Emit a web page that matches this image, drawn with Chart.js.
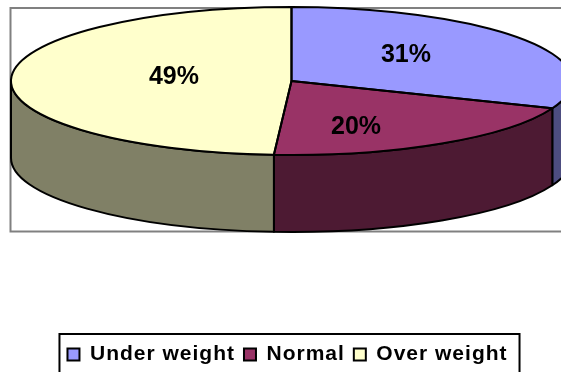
<!DOCTYPE html>
<html>
<head>
<meta charset="utf-8">
<style>
  html, body { margin: 0; padding: 0; background: #fff; overflow: hidden; }
  canvas { display: block; }
</style>
<script src="https://cdn.jsdelivr.net/npm/chart.js@4"></script>
</head>
<body>
<canvas id="pie" width="561" height="372"></canvas>
<script>
const categories = ['Under weight', 'Normal', 'Over weight'];
const shares = [31, 20, 49];
const topColors = ['#9999FF', '#993366', '#FFFFCC'];
const sideColors = ['#4D4D80', '#4D1A33', '#808066'];

// Ellipse the flat pie is projected onto, and the height of the rim below it.
const disc = { cx: 291.5, cy: 81, rx: 280.5, ry: 74, depth: 77 };
// Percent label anchors, as fractions of the ellipse radii from its centre.
const labelOffsets = [[0.408, -0.351], [0.230, 0.622], [-0.419, -0.054]];
const plotFrame = { left: 10.5, top: 8, bottom: 231.5 };
const legendInset = { left: 8, right: 12, top: 10, bottom: 10 };
const legendTracking = '1px';

const tiltedPie = {
  id: 'tiltedPie',
  beforeLayout(chart) { chart.ctx.letterSpacing = legendTracking; },
  beforeDraw(chart) { chart.ctx.letterSpacing = legendTracking; },

  beforeDatasetsDraw(chart) {
    const { ctx, width } = chart;
    ctx.save();
    ctx.strokeStyle = '#808080';
    ctx.lineWidth = 2;
    ctx.strokeRect(plotFrame.left, plotFrame.top, width + 10, plotFrame.bottom - plotFrame.top);

    // Rim: only the part of each slice facing the viewer (angles 0..PI).
    ctx.lineJoin = 'round';
    chart.getDatasetMeta(0).data.forEach((arc, i) => {
      const a0 = Math.max(arc.startAngle, 0);
      const a1 = Math.min(arc.endAngle, Math.PI);
      if (a1 <= a0) return;
      ctx.beginPath();
      ctx.ellipse(disc.cx, disc.cy, disc.rx, disc.ry, 0, a0, a1);
      ctx.ellipse(disc.cx, disc.cy + disc.depth, disc.rx, disc.ry, 0, a1, a0, true);
      ctx.closePath();
      ctx.fillStyle = sideColors[i];
      ctx.fill();
      ctx.strokeStyle = '#000';
      ctx.lineWidth = 2;
      ctx.stroke();
    });
    ctx.restore();

    // Slices are laid out by the pie controller, then squashed onto the ellipse.
    const first = chart.getDatasetMeta(0).data[0];
    ctx.save();
    ctx.translate(disc.cx, disc.cy);
    ctx.scale(disc.rx / first.outerRadius, disc.ry / first.outerRadius);
    ctx.translate(-first.x, -first.y);
  },

  afterDatasetsDraw(chart) {
    const { ctx } = chart;
    ctx.restore();
    const arcs = chart.getDatasetMeta(0).data;

    // Outlines are stroked untransformed so the line keeps an even width.
    ctx.save();
    ctx.strokeStyle = '#000';
    ctx.lineWidth = 2;
    ctx.lineJoin = 'round';
    arcs.forEach(arc => {
      ctx.beginPath();
      ctx.moveTo(disc.cx, disc.cy);
      ctx.ellipse(disc.cx, disc.cy, disc.rx, disc.ry, 0, arc.startAngle, arc.endAngle);
      ctx.closePath();
      ctx.stroke();
    });

    ctx.letterSpacing = '0px';
    ctx.fillStyle = '#000';
    ctx.font = 'bold 25px "Liberation Sans", Arial, sans-serif';
    ctx.textAlign = 'center';
    ctx.textBaseline = 'middle';
    shares.forEach((value, i) => {
      const [fx, fy] = labelOffsets[i];
      ctx.fillText(value + '%', disc.cx + fx * disc.rx, disc.cy + fy * disc.ry);
    });
    ctx.restore();
  },

  afterDraw(chart) {
    const { ctx, legend } = chart;
    const boxes = legend.legendHitBoxes;
    const first = boxes[0];
    const last = boxes[boxes.length - 1];
    const left = first.left - legendInset.left;
    const right = last.left + last.width + legendInset.right;
    const top = first.top - legendInset.top;
    const bottom = first.top + first.height + legendInset.bottom;
    ctx.save();
    ctx.strokeStyle = '#000';
    ctx.lineWidth = 2;
    ctx.strokeRect(left, top, right - left, bottom - top);
    ctx.restore();
  }
};

new Chart(document.getElementById('pie'), {
  type: 'pie',
  data: {
    labels: categories,
    datasets: [{
      data: shares,
      backgroundColor: topColors,
      borderWidth: 0,
      clip: false
    }]
  },
  options: {
    responsive: false,
    animation: false,
    layout: { padding: { left: 14, bottom: -3 } },
    plugins: {
      tooltip: { enabled: false },
      legend: {
        position: 'bottom',
        onClick: null,
        labels: {
          color: '#000',
          boxWidth: 12,
          boxHeight: 12,
          padding: 9,
          font: { family: '"Liberation Sans", Arial, sans-serif', weight: 'bold', size: 21 },
          generateLabels(chart) {
            return Chart.overrides.pie.plugins.legend.labels.generateLabels(chart)
              .map(item => ({ ...item, lineWidth: 2, strokeStyle: '#000' }));
          }
        }
      }
    }
  },
  plugins: [tiltedPie]
});
</script>
</body>
</html>
